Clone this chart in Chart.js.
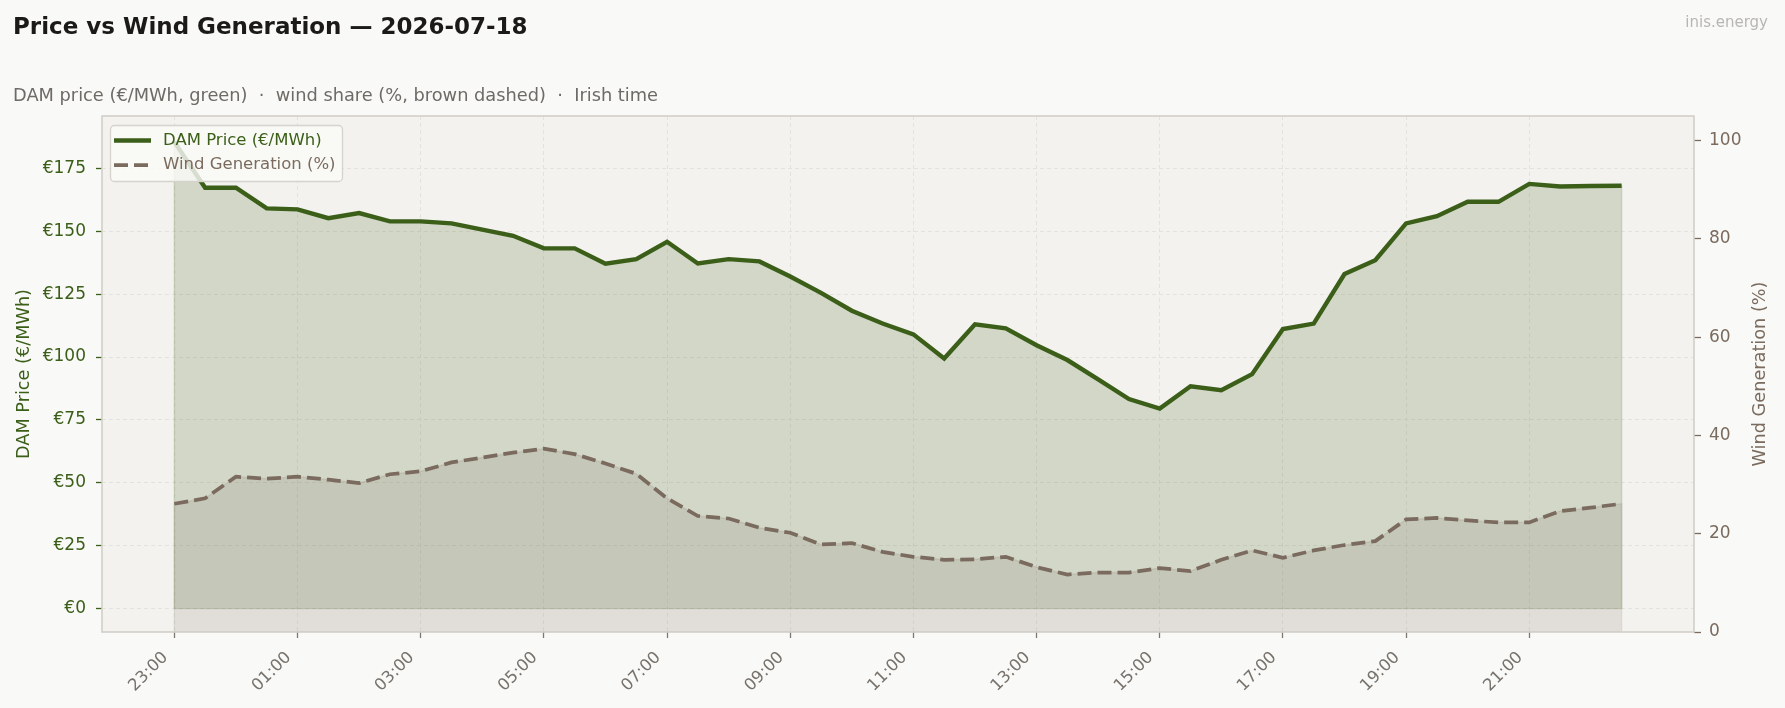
<!DOCTYPE html>
<html>
<head>
<meta charset="utf-8">
<title>Price vs Wind Generation</title>
<script src="https://cdn.jsdelivr.net/npm/chart.js@4.4.0/dist/chart.umd.min.js"></script>
<style>
  html, body { margin: 0; padding: 0; background: #f9f9f7; }
  #wrap { width: 1785px; height: 708px; }
</style>
</head>
<body>
<div id="wrap"><canvas id="priceWindChart" width="1785" height="708"></canvas></div>
<script>
// half-hourly settlement periods, Irish time
const times = ['23:00','23:30','00:00','00:30','01:00','01:30','02:00','02:30','03:00','03:30',
  '04:00','04:30','05:00','05:30','06:00','06:30','07:00','07:30','08:00','08:30',
  '09:00','09:30','10:00','10:30','11:00','11:30','12:00','12:30','13:00','13:30',
  '14:00','14:30','15:00','15:30','16:00','16:30','17:00','17:30','18:00','18:30',
  '19:00','19:30','20:00','20:30','21:00','21:30','22:00','22:30'];

// DAM price, €/MWh
const damPrice = [185.5, 167.3, 167.3, 159.1, 158.7, 155.2, 157.2, 153.9, 153.9, 153.1,
  150.6, 148.2, 143.2, 143.2, 137.1, 138.9, 145.8, 137.2, 138.9, 138.0,
  132.0, 125.5, 118.4, 113.3, 109.0, 99.4, 113.0, 111.4, 104.7, 98.8,
  91.1, 83.3, 79.5, 88.4, 86.8, 93.2, 111.1, 113.3, 133.0, 138.5,
  153.1, 156.0, 161.7, 161.7, 168.8, 167.8, 168.0, 168.1];

// wind share of generation, %
const windShare = [26.1, 27.2, 31.6, 31.2, 31.6, 31.0, 30.3, 32.1, 32.7, 34.5,
  35.5, 36.5, 37.3, 36.2, 34.3, 32.2, 27.2, 23.6, 23.1, 21.2,
  20.2, 17.8, 18.1, 16.3, 15.3, 14.7, 14.8, 15.3, 13.2, 11.7,
  12.1, 12.1, 13.0, 12.4, 14.7, 16.6, 15.1, 16.6, 17.7, 18.5,
  22.9, 23.2, 22.7, 22.3, 22.3, 24.6, 25.3, 26.1];

const xTickTimes = ['23:00','01:00','03:00','05:00','07:00','09:00','11:00','13:00','15:00','17:00','19:00','21:00'];
const priceTicks = [0, 25, 50, 75, 100, 125, 150, 175];
const windTicks = [0, 20, 40, 60, 80, 100];

const GREEN = '#3b5e18';
const BROWN = '#7a6b5e';
const GRID = '#e4e2dd';
const FONT = '"DejaVu Sans", sans-serif';

Chart.defaults.font.family = FONT;

// background, frame, header, right axis title and the in-plot legend
const decorations = {
    id: 'decorations',
    beforeDraw(chart) {
        const {ctx, chartArea: a} = chart;
        ctx.save();
        ctx.fillStyle = '#f9f9f7';
        ctx.fillRect(0, 0, chart.width, chart.height);
        ctx.fillStyle = '#f3f2ef';
        ctx.fillRect(a.left, a.top, a.right - a.left, a.bottom - a.top);
        ctx.restore();
    },
    // thin outline round each filled area, like the edge of a fill_between
    beforeDatasetDraw(chart, args) {
        const {ctx, chartArea: a} = chart;
        const meta = args.meta;
        const ds = chart.data.datasets[args.index];
        const pts = meta.data;
        if (!pts.length) return;
        const base = Math.min(chart.scales[meta.yAxisID].getPixelForValue(0), a.bottom);
        ctx.save();
        ctx.beginPath();
        ctx.rect(a.left, a.top, a.right - a.left, a.bottom - a.top);
        ctx.clip();
        ctx.beginPath();
        ctx.moveTo(pts[0].x, base);
        pts.forEach(p => ctx.lineTo(p.x, p.y));
        ctx.lineTo(pts[pts.length - 1].x, base);
        ctx.closePath();
        ctx.strokeStyle = ds.backgroundColor;
        ctx.lineWidth = 1.4;
        ctx.stroke();
        ctx.restore();
    },
    afterDraw(chart) {
        const {ctx, chartArea: a} = chart;
        ctx.save();

        // frame
        ctx.strokeStyle = '#d3cfc9';
        ctx.lineWidth = 1.6;
        ctx.strokeRect(a.left, a.top, a.right - a.left, a.bottom - a.top);

        // header
        ctx.textBaseline = 'alphabetic';
        ctx.textAlign = 'left';
        ctx.fillStyle = '#1c1a18';
        ctx.font = 'bold 23px ' + FONT;
        ctx.fillText('Price vs Wind Generation — 2026-07-18', 13, 33.5);
        ctx.fillStyle = '#6e6a66';
        ctx.font = '17.8px ' + FONT;
        ctx.fillText('DAM price (€/MWh, green)  ·  wind share (%, brown dashed)  ·  Irish time', 13, 101);
        ctx.textAlign = 'right';
        ctx.fillStyle = '#b7b6b3';
        ctx.font = '15px ' + FONT;
        ctx.fillText('inis.energy', 1768, 27);

        // right axis title, reading bottom to top
        ctx.save();
        ctx.translate(1760, (a.top + a.bottom) / 2);
        ctx.rotate(-Math.PI / 2);
        ctx.textAlign = 'center';
        ctx.textBaseline = 'middle';
        ctx.fillStyle = BROWN;
        ctx.font = '17.7px ' + FONT;
        ctx.fillText('Wind Generation (%)', 0, 0);
        ctx.restore();

        // legend box
        ctx.beginPath();
        ctx.roundRect(110.5, 125.5, 232, 56, 4);
        ctx.fillStyle = 'rgba(250,250,248,0.82)';
        ctx.fill();
        ctx.strokeStyle = '#d6d2cc';
        ctx.lineWidth = 1.3;
        ctx.stroke();

        const rows = chart.data.datasets;
        ctx.textAlign = 'left';
        ctx.textBaseline = 'middle';
        ctx.font = '16.5px ' + FONT;
        rows.forEach((ds, i) => {
            const y = 140.5 + i * 24.5;
            ctx.beginPath();
            ctx.setLineDash(ds.borderDash || []);
            ctx.strokeStyle = ds.borderColor;
            ctx.lineWidth = ds.borderWidth;
            ctx.moveTo(114, y);
            ctx.lineTo(151, y);
            ctx.stroke();
            ctx.setLineDash([]);
            ctx.fillStyle = ds.borderColor;
            ctx.fillText(ds.label, 163, y);
        });
        ctx.restore();
    }
};

const ctx = document.getElementById('priceWindChart').getContext('2d');

window.priceWindChart = new Chart(ctx, {
    type: 'line',
    data: {
        datasets: [{
            label: 'DAM Price (€/MWh)',
            data: damPrice.map((v, i) => ({x: i, y: v})),
            yAxisID: 'yPrice',
            borderColor: GREEN,
            borderWidth: 4.4,
            backgroundColor: 'rgba(59, 94, 24, 0.18)',
            fill: {value: 0},
            pointRadius: 0,
            order: 2
        }, {
            label: 'Wind Generation (%)',
            data: windShare.map((v, i) => ({x: i, y: v})),
            yAxisID: 'yWind',
            borderColor: BROWN,
            borderWidth: 3.75,
            borderDash: [14, 6],
            backgroundColor: 'rgba(122, 107, 94, 0.14)',
            fill: 'origin',
            pointRadius: 0,
            order: 1
        }]
    },
    options: {
        responsive: false,
        animation: false,
        devicePixelRatio: 1,
        layout: { padding: {top: 116, left: 0, right: 0, bottom: 0} },
        plugins: {
            legend: { display: false },
            tooltip: { enabled: false }
        },
        scales: {
            x: {
                type: 'linear',
                min: -2.35,
                max: 49.35,
                afterBuildTicks: s => { s.ticks = xTickTimes.map(t => ({value: times.indexOf(t)})); },
                afterFit: s => { s.height = 76; },
                ticks: {
                    autoSkip: false,
                    minRotation: 45,
                    maxRotation: 45,
                    padding: 10,
                    labelOffset: -9,
                    color: '#77726c',
                    font: { size: 16.5 },
                    callback: v => times[v]
                },
                grid: { color: GRID, lineWidth: 1, tickColor: '#7d7872', tickLength: 6, tickWidth: 1.3 },
                border: { display: false, dash: [4, 3] }
            },
            yPrice: {
                position: 'left',
                min: -9.3,
                max: 195.8,
                afterBuildTicks: s => { s.ticks = priceTicks.map(v => ({value: v})); },
                afterFit: s => { s.width = 102; },
                ticks: {
                    padding: 10,
                    color: GREEN,
                    font: { size: 17 },
                    callback: v => '€' + v
                },
                grid: { color: GRID, lineWidth: 1, tickColor: GREEN, tickLength: 6, tickWidth: 1.3 },
                border: { display: false, dash: [4, 3] },
                title: {
                    display: true,
                    text: 'DAM Price (€/MWh)',
                    color: GREEN,
                    font: { size: 17.7 },
                    padding: { top: 14, bottom: 0 }
                }
            },
            yWind: {
                position: 'right',
                min: 0,
                max: 105,
                afterBuildTicks: s => { s.ticks = windTicks.map(v => ({value: v})); },
                afterFit: s => { s.width = 91; },
                ticks: {
                    padding: 8,
                    color: BROWN,
                    font: { size: 17 }
                },
                grid: { drawOnChartArea: false, tickColor: BROWN, tickLength: 7, tickWidth: 1.3 },
                border: { display: false }
            }
        }
    },
    plugins: [decorations]
});
</script>
</body>
</html>
